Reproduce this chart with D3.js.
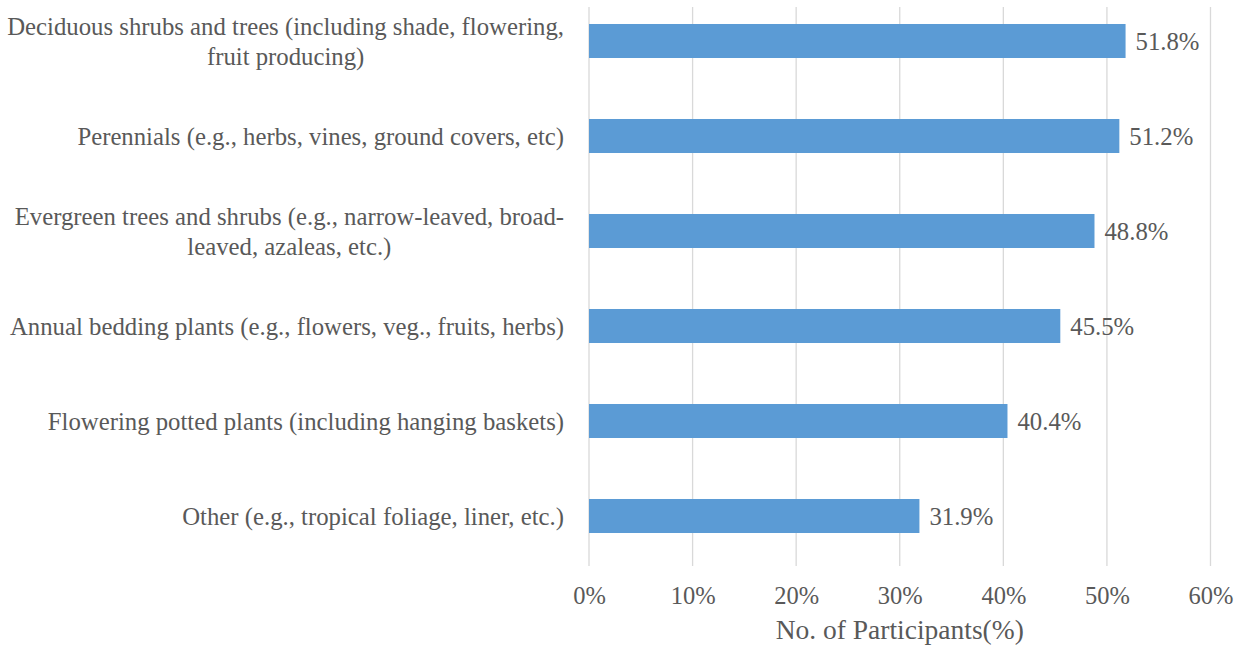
<!DOCTYPE html>
<html>
<head>
<meta charset="utf-8">
<script src="https://d3js.org/d3.v7.min.js"></script>
</head>
<body style="margin:0">
<svg id="chart" width="1238" height="646"></svg>
<script>
// Plant categories (label lines) and share of participants (%)
const categories = [
  ["Deciduous shrubs and trees (including shade, flowering,", "fruit producing)"],
  ["Perennials (e.g., herbs, vines, ground covers, etc)"],
  ["Evergreen trees and shrubs (e.g., narrow-leaved, broad-", "leaved, azaleas, etc.)"],
  ["Annual bedding plants (e.g., flowers, veg., fruits, herbs)"],
  ["Flowering potted plants (including hanging baskets)"],
  ["Other (e.g., tropical foliage, liner, etc.)"]
];
const values = [51.8, 51.2, 48.8, 45.5, 40.4, 31.9];
const xTicks = [0, 10, 20, 30, 40, 50, 60];
const xTitle = "No. of Participants(%)";

const FONT = '"Liberation Serif"';
const TEXT_COLOR = "#595959";
const fontSize = 24.75;

const svg = d3.select("#chart").style("font-family", FONT);

const x = d3.scaleLinear().domain([0, 60]).range([589, 1210.5]);
const keys = categories.map((c, i) => i);
const y = d3.scaleBand()
  .domain(keys)
  .range([-6.5, 563.5])
  .paddingInner(0.642)
  .paddingOuter(0.321);

const gridTop = 7, gridBottom = 566;

function styleText(sel, size) {
  return sel.style("font-family", FONT)
    .style("font-size", size + "px")
    .style("fill", TEXT_COLOR);
}

// vertical gridlines
svg.append("g")
  .selectAll("line")
  .data(xTicks)
  .join("line")
  .attr("x1", d => x(d)).attr("x2", d => x(d))
  .attr("y1", gridTop).attr("y2", gridBottom)
  .attr("stroke", "#d9d9d9")
  .attr("stroke-width", 1.3);

// bars
svg.append("g")
  .selectAll("rect")
  .data(values)
  .join("rect")
  .attr("x", x(0))
  .attr("y", (d, i) => y(i))
  .attr("width", d => x(d) - x(0))
  .attr("height", y.bandwidth())
  .attr("fill", "#5b9bd5");

// value labels
svg.append("g")
  .selectAll("text")
  .data(values)
  .join("text")
  .attr("x", d => x(d) + 10)
  .attr("y", (d, i) => y(i) + y.bandwidth() / 2)
  .attr("dy", "0.35em")
  .call(styleText, fontSize)
  .text(d => d.toFixed(1) + "%");

// category labels: multi-line blocks, lines centred on each other, block right-aligned
const labelRight = 564;
const lineH = 30;
const catG = svg.append("g");
categories.forEach((lines, i) => {
  const cy = y(i) + y.bandwidth() / 2;
  const t = catG.append("text").call(styleText, fontSize);
  const n = lines.length;
  const spans = lines.map((ln, j) =>
    t.append("tspan")
      .attr("y", cy + (j - (n - 1) / 2) * lineH)
      .attr("dy", "0.35em")
      .text(ln)
  );
  const widths = spans.map(s => s.node().getComputedTextLength());
  const maxW = d3.max(widths);
  const center = labelRight - maxW / 2;
  spans.forEach(s => s.attr("x", center).attr("text-anchor", "middle"));
});

// x tick labels
const xAxis = d3.axisBottom(x)
  .tickValues(xTicks)
  .tickFormat(d => d + "%")
  .tickSize(0)
  .tickPadding(0);
const axG = svg.append("g")
  .attr("transform", "translate(0, 587)")
  .call(xAxis);
axG.select(".domain").remove();
axG.attr("font-family", null).attr("font-size", null);
axG.selectAll("text").call(styleText, 24.5);

// axis title
svg.append("text")
  .attr("x", (x(0) + x(60)) / 2)
  .attr("y", 630)
  .attr("dy", "0.33em")
  .attr("text-anchor", "middle")
  .call(styleText, 27.5)
  .text(xTitle);
</script>
</body>
</html>
